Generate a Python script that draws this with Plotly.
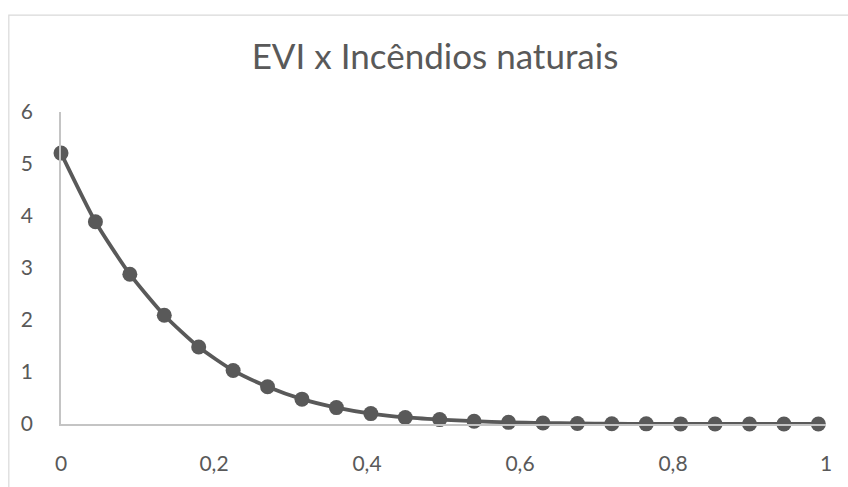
import plotly.graph_objects as go

# Data
x_vals = [0, 0.045, 0.09, 0.135, 0.18, 0.225, 0.27, 0.315, 0.36, 0.405, 0.45, 0.495,
          0.54, 0.585, 0.63, 0.675, 0.72, 0.765, 0.81, 0.855, 0.9, 0.945, 0.99]
y_vals = [5.21, 3.89, 2.88, 2.09, 1.48, 1.03, 0.716, 0.478, 0.315, 0.20, 0.126, 0.085,
          0.053, 0.032, 0.019, 0.011, 0.006, 0.003, 0.002, 0.001, 0.0005, 0.0002, 0.0001]
title_text = "EVI x Incêndios naturais"
x_ticks = [0, 0.2, 0.4, 0.6, 0.8, 1]
x_tick_labels = ["0", "0,2", "0,4", "0,6", "0,8", "1"]
y_ticks = [0, 1, 2, 3, 4, 5, 6]

W, H = 848, 487
L, R, T, B = 60.7, 22, 112, 56.3
pw = W - L - R
ph = H - T - B

GRAY = "#595959"
AXIS = "#C4C4C4"
FONT = "Lato, 'Open Sans', sans-serif"

fig = go.Figure()
fig.add_trace(go.Scatter(
    x=x_vals, y=y_vals, mode="lines+markers",
    line=dict(color=GRAY, width=3.75, shape="spline", smoothing=0.6),
    marker=dict(color=GRAY, size=15),
    cliponaxis=False, showlegend=False,
))

fig.update_layout(
    width=W, height=H,
    margin=dict(l=L, r=R, t=T, b=B, pad=0),
    paper_bgcolor="white", plot_bgcolor="white",
    font=dict(family=FONT, color=GRAY),
    title=dict(text=title_text, x=435 / W, xref="container", xanchor="center",
               y=1 - 57 / H, yref="container", yanchor="middle",
               font=dict(size=35, color=GRAY, family=FONT)),
    xaxis=dict(range=[0, 1], tickvals=x_ticks, ticktext=x_tick_labels,
               showgrid=False, zeroline=False, showline=True, linecolor=AXIS,
               linewidth=1.5, ticks="", ticklabelstandoff=20,
               tickfont=dict(size=21, color=GRAY)),
    yaxis=dict(range=[0, 6], tickvals=y_ticks, showgrid=False, zeroline=False,
               showline=True, linecolor=AXIS, linewidth=1.5, ticks="",
               ticklabelstandoff=22, tickfont=dict(size=21, color=GRAY)),
    shapes=[dict(type="rect", xref="paper", yref="paper",
                 x0=(8.5 - L) / pw, x1=1.2, y0=-0.5, y1=1 + (T - 13) / ph,
                 line=dict(color="#D9D9D9", width=1.2), layer="below")],
)

fig.write_html("out.html")
